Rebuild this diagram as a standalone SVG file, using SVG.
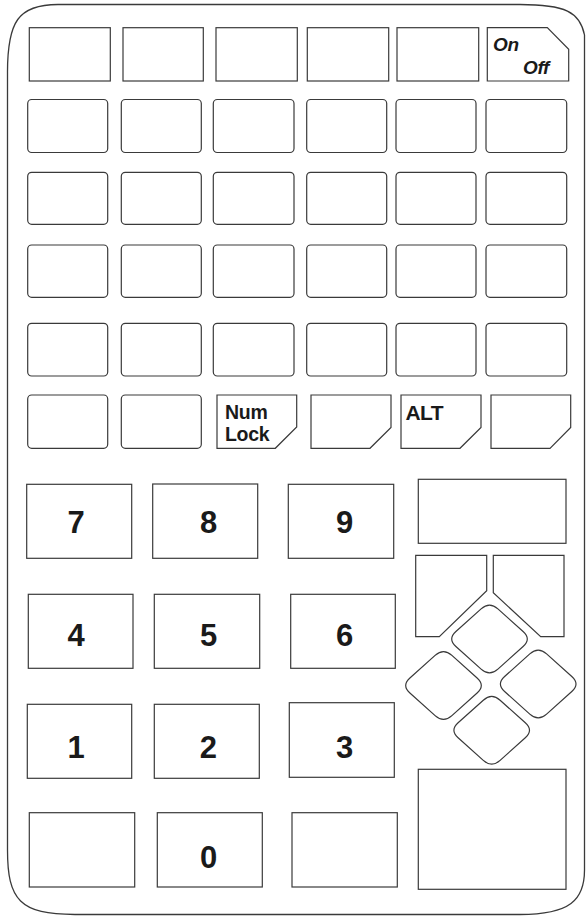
<svg xmlns="http://www.w3.org/2000/svg" width="586" height="917" viewBox="0 0 586 917">
<style>
.k{fill:#fff;stroke:#3a3a3a;stroke-width:1.2}
.b{fill:none;stroke:#3a3a3a;stroke-width:1.3}
.lbl{font-family:"Liberation Sans",Arial,sans-serif;fill:#1a1a1a}
.d{font-size:31px;font-weight:bold;text-anchor:middle}
.s{font-size:19.5px;font-weight:bold;letter-spacing:-0.3px}
.a{font-size:21px;font-weight:bold;letter-spacing:-0.6px}
.io{font-size:19px;font-weight:bold;font-style:italic;letter-spacing:-0.4px}
</style>
<defs>
<path id="dia" d="M8.4,-30.08 L33.6,-7.52 Q42,0 33.6,7.52 L8.4,30.08 Q0,37.6 -8.4,30.08 L-33.6,7.52 Q-42,0 -33.6,-7.52 L-8.4,-30.08 Q0,-37.6 8.4,-30.08 Z"/>
</defs>
<rect width="586" height="917" fill="#fff"/>
<g id="body">
<path class="b" d="M7.5,72 C7.5,22 18,4.5 58,4.5 L520,4.5 C565,4.5 580,12 584.5,35 L584.5,870 C584.5,900 570,914.5 520,914.5 L75,914.5 C20,914.5 7.5,900 7.5,850 Z"/>
</g>
<g id="connectors"></g>
<g id="row1">
<rect id="k1_1" class="k" x="29.3" y="27.7" width="81" height="53.3"/>
<rect id="k1_2" class="k" x="123" y="27.7" width="80.3" height="53.3"/>
<rect id="k1_3" class="k" x="216" y="27.7" width="81.3" height="53.3"/>
<rect id="k1_4" class="k" x="307.3" y="27.7" width="81.4" height="53.3"/>
<rect id="k1_5" class="k" x="397" y="27.7" width="81.7" height="53.3"/>
<g id="onoff"><path class="k" d="M487.3,27.7 L547.3,27.7 L568.7,49.3 L568.7,81 L487.3,81 Z"/>
<text class="lbl io" x="493" y="51">On</text>
<text class="lbl io" x="523" y="73.5">Off</text></g>
</g>
<g id="row2">
<rect class="k" x="27.7" y="99.5" width="80" height="53" rx="4"/>
<rect class="k" x="121.3" y="99.5" width="80" height="53" rx="4"/>
<rect class="k" x="213.3" y="99.5" width="80.7" height="53" rx="4"/>
<rect class="k" x="306.7" y="99.5" width="80" height="53" rx="4"/>
<rect class="k" x="396" y="99.5" width="80" height="53" rx="4"/>
<rect class="k" x="486" y="99.5" width="80.7" height="53" rx="4"/>
</g>
<g id="row3">
<rect class="k" x="27.7" y="172.3" width="80" height="52" rx="4"/>
<rect class="k" x="121.3" y="172.3" width="80" height="52" rx="4"/>
<rect class="k" x="213.3" y="172.3" width="80.7" height="52" rx="4"/>
<rect class="k" x="306.7" y="172.3" width="80" height="52" rx="4"/>
<rect class="k" x="396" y="172.3" width="80" height="52" rx="4"/>
<rect class="k" x="486" y="172.3" width="80.7" height="52" rx="4"/>
</g>
<g id="row4">
<rect class="k" x="27.7" y="245" width="80" height="52.3" rx="4"/>
<rect class="k" x="121.3" y="245" width="80" height="52.3" rx="4"/>
<rect class="k" x="213.3" y="245" width="80.7" height="52.3" rx="4"/>
<rect class="k" x="306.7" y="245" width="80" height="52.3" rx="4"/>
<rect class="k" x="396" y="245" width="80" height="52.3" rx="4"/>
<rect class="k" x="486" y="245" width="80.7" height="52.3" rx="4"/>
</g>
<g id="row5">
<rect class="k" x="27.7" y="323.3" width="80" height="52.7" rx="4"/>
<rect class="k" x="121.3" y="323.3" width="80" height="52.7" rx="4"/>
<rect class="k" x="213.3" y="323.3" width="80.7" height="52.7" rx="4"/>
<rect class="k" x="306.7" y="323.3" width="80" height="52.7" rx="4"/>
<rect class="k" x="396" y="323.3" width="80" height="52.7" rx="4"/>
<rect class="k" x="486" y="323.3" width="80.7" height="52.7" rx="4"/>
</g>
<g id="row6">
<rect class="k" x="27.7" y="395" width="80" height="53.3" rx="4"/>
<rect class="k" x="121.3" y="395" width="80" height="53.3" rx="4"/>
<g id="numlock"><path class="k" d="M217,395 L296.7,395 L296.7,427 L275.3,448.3 L217,448.3 Z"/>
<text class="lbl s" x="225" y="418.5">Num</text>
<text class="lbl s" x="225" y="441.2">Lock</text></g>
<path id="k6_4" class="k" d="M311,395 L391,395 L391,427.5 L370,448.3 L311,448.3 Z"/>
<g id="alt"><path class="k" d="M401,395 L481,395 L481,427.5 L460,448.3 L401,448.3 Z"/>
<text class="lbl a" x="405.5" y="419.5">ALT</text></g>
<path id="k6_6" class="k" d="M491,395 L570.7,395 L570.7,427.5 L550,448.3 L491,448.3 Z"/>
</g>
<g id="numpad">
<g id="n7"><rect class="k" x="26.7" y="484.3" width="105" height="74"/><text class="lbl d" x="76" y="533.3">7</text></g>
<g id="n8"><rect class="k" x="152.7" y="484" width="105" height="74.3"/><text class="lbl d" x="208.7" y="533.3">8</text></g>
<g id="n9"><rect class="k" x="288.3" y="484.3" width="105.4" height="74"/><text class="lbl d" x="344.5" y="533.3">9</text></g>
<g id="n4"><rect class="k" x="28.3" y="594.3" width="104.7" height="74"/><text class="lbl d" x="76" y="645.5">4</text></g>
<g id="n5"><rect class="k" x="154.3" y="594.3" width="105.4" height="74"/><text class="lbl d" x="208.5" y="645.5">5</text></g>
<g id="n6"><rect class="k" x="290.7" y="594.3" width="104.6" height="74"/><text class="lbl d" x="344.5" y="645.5">6</text></g>
<g id="n1"><rect class="k" x="27.3" y="704.3" width="104.4" height="74"/><text class="lbl d" x="76" y="758.3">1</text></g>
<g id="n2"><rect class="k" x="154.3" y="704.3" width="105" height="74"/><text class="lbl d" x="208.3" y="758.3">2</text></g>
<g id="n3"><rect class="k" x="289.3" y="702.7" width="105" height="74.6"/><text class="lbl d" x="344.5" y="758.3">3</text></g>
<g id="nb1"><rect class="k" x="29.3" y="812.7" width="105.4" height="74.3"/></g>
<g id="n0"><rect class="k" x="157.3" y="812.7" width="105" height="74.3"/><text class="lbl d" x="208.7" y="868.3">0</text></g>
<g id="nb3"><rect class="k" x="292" y="812.7" width="105.3" height="74.3"/></g>
</g>
<g id="cursor">
<rect id="wide_top" class="k" x="418.3" y="479.3" width="147.7" height="64"/>
<path id="pent_l" class="k" d="M415.7,555.3 L486.7,555.3 L486.7,590.7 L439.3,636.7 L415.7,636.7 Z"/>
<path id="pent_r" class="k" d="M493.3,555.3 L564,555.3 L564,636.7 L540.7,636.7 L493.3,592.7 Z"/>
<use id="dia_up" href="#dia" class="k" transform="translate(489.5,639)"/>
<use id="dia_left" href="#dia" class="k" transform="translate(443.5,685.5)"/>
<use id="dia_right" href="#dia" class="k" transform="translate(538.2,684)"/>
<use id="dia_down" href="#dia" class="k" transform="translate(491.7,730.3)"/>
<rect id="wide_bottom" class="k" x="418.3" y="769.3" width="147.7" height="120"/>
</g>
</svg>
